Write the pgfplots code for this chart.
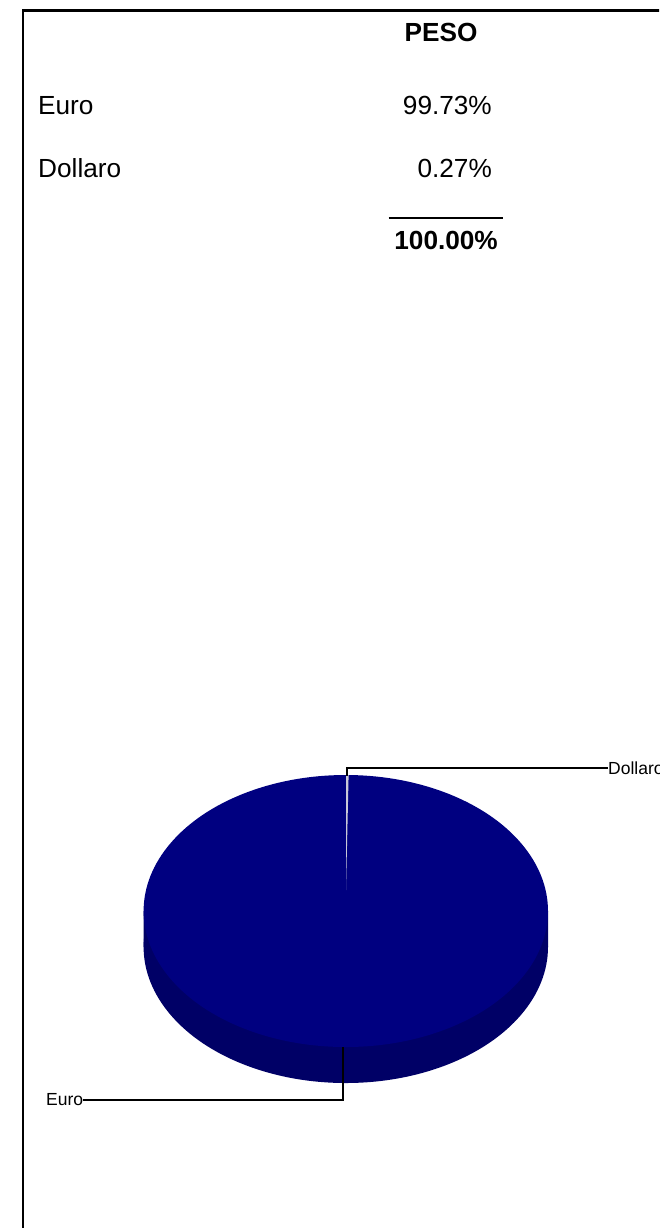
\documentclass[border=0pt]{standalone}
\usepackage{pgfplots}
\pgfplotsset{compat=1.18}
\usepackage{fontspec}
\setmainfont{Liberation Sans}
\definecolor{pietop}{HTML}{000080}
\definecolor{pieside}{HTML}{000066}
\definecolor{wedge}{HTML}{C8C8D8}
\newcommand{\tablefont}{\fontsize{26.2pt}{30pt}\selectfont}
\newcommand{\labelfont}{\fontsize{17.5pt}{20pt}\selectfont}
\begin{document}
\begin{tikzpicture}
\clip (0,0) rectangle (659pt,1228pt);
\begin{axis}[
  at={(0,0)}, anchor=south west,
  width=659pt, height=1228pt, scale only axis,
  xmin=0, xmax=659, ymin=0, ymax=1228, y dir=reverse,
  hide axis, clip=true,
]
% frame
\addplot[black, line width=2.6pt, no marks] coordinates {(23,1240) (23,10.5) (670,10.5)};
% table rule
\addplot[black, line width=2.4pt, no marks] coordinates {(388.6,218) (503,218)};
% pie side
\addplot[draw=none, fill=pieside, no marks, smooth cycle, tension=0.608] coordinates {
(548,947) (541.1,982.2) (520.9,1015) (488.8,1043.2) (446.9,1064.8) (398.1,1078.4) (345.8,1083)
(293.5,1078.4) (244.7,1064.8) (202.8,1043.2) (170.7,1015) (150.5,982.2) (143.6,947)
(150.5,911.8) (170.7,879) (202.8,850.8) (244.7,829.2) (293.5,815.6) (345.8,811)
(398.1,815.6) (446.9,829.2) (488.8,850.8) (520.9,879) (541.1,911.8)};
\addplot[draw=none, fill=pieside, no marks] coordinates {(143.6,911) (548,911) (548,947) (143.6,947) (143.6,911)};
% pie top
\addplot[draw=none, fill=pietop, no marks, smooth cycle, tension=0.608] coordinates {
(548,911) (541.1,946.2) (520.9,979) (488.8,1007.2) (446.9,1028.8) (398.1,1042.4) (345.8,1047)
(293.5,1042.4) (244.7,1028.8) (202.8,1007.2) (170.7,979) (150.5,946.2) (143.6,911)
(150.5,875.8) (170.7,843) (202.8,814.8) (244.7,793.2) (293.5,779.6) (345.8,775)
(398.1,779.6) (446.9,793.2) (488.8,814.8) (520.9,843) (541.1,875.8)};
% Dollaro slice, 0.27%
\addplot[draw=none, fill=wedge, no marks] coordinates {(346,890) (346,775) (348.6,775.1) (346,890)};
% leaders
\addplot[black, line width=2pt, no marks] coordinates {(346.8,776) (346.8,768.3) (608,768.3)};
\addplot[black, line width=2pt, no marks] coordinates {(342.8,1047) (342.8,1099.5) (83,1099.5)};
% table text
\node[anchor=base, font=\tablefont\bfseries] at (axis cs:441,41.7) {PESO};
\node[anchor=base west, font=\tablefont, inner sep=0pt] at (axis cs:38,114) {Euro};
\node[anchor=base west, font=\tablefont, inner sep=0pt] at (axis cs:38,177.3) {Dollaro};
\node[anchor=base east, font=\tablefont, inner sep=0pt] at (axis cs:492,114) {99.73\%};
\node[anchor=base east, font=\tablefont, inner sep=0pt] at (axis cs:492,177.3) {0.27\%};
\node[anchor=base east, font=\tablefont\bfseries, inner sep=0pt] at (axis cs:498,249.3) {100.00\%};
% pie labels
\node[anchor=base west, font=\labelfont, inner sep=0pt] at (axis cs:608,774.5) {Dollaro};
\node[anchor=base west, font=\labelfont, inner sep=0pt] at (axis cs:46,1105) {Euro};
\end{axis}
\end{tikzpicture}
\end{document}
